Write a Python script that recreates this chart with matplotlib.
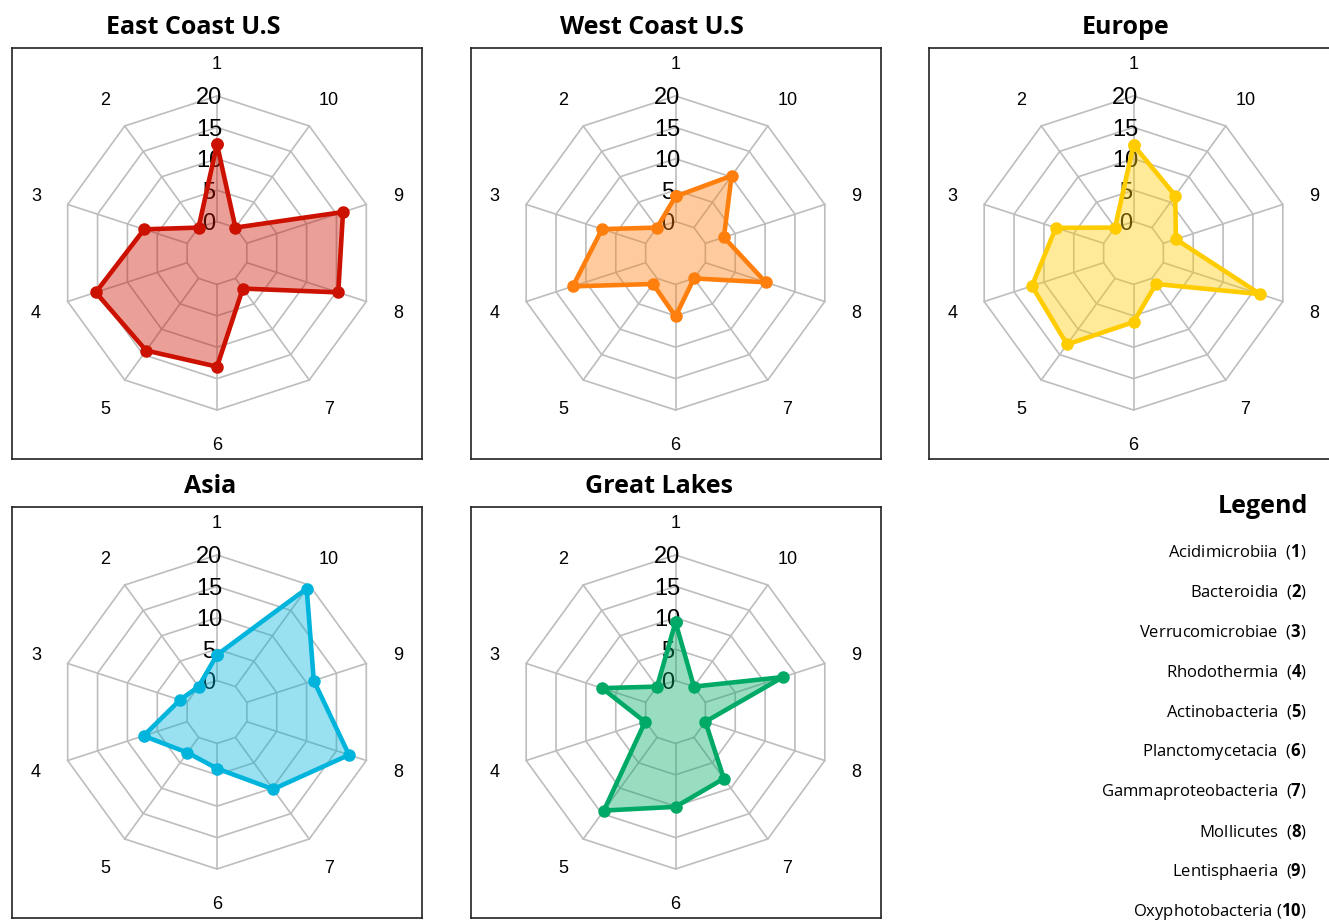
import numpy as np
import matplotlib
matplotlib.use("Agg")
import matplotlib.pyplot as plt

# ---- data -------------------------------------------------------------
axis_labels = ["1", "2", "3", "4", "5", "6", "7", "8", "9", "10"]
class_names = ["Acidimicrobiia", "Bacteroidia", "Verrucomicrobiae", "Rhodothermia",
               "Actinobacteria", "Planctomycetacia", "Gammaproteobacteria",
               "Mollicutes", "Lentisphaeria", "Oxyphotobacteria"]
ring_ticks = [0, 5, 10, 15, 20]

east_coast = [12.3, 0.0, 7.2, 15.3, 14.2, 13.1, 2.0, 15.3, 16.1, 0.0]
west_coast = [4.0, 0.0, 7.3, 12.2, 1.1, 5.1, 0.0, 10.1, 3.1, 10.2]
europe = [12.2, 0.0, 8.0, 12.0, 13.0, 6.0, 1.1, 16.2, 2.1, 6.3]
asia = [4.1, 0.0, 1.2, 7.3, 3.0, 4.0, 10.2, 17.1, 11.2, 19.3]
great_lakes = [9.3, 0.0, 7.3, 0.1, 14.4, 10.1, 8.1, 0.0, 13.0, 0.0]

region_titles = ["East Coast U.S", "West Coast U.S", "Europe", "Asia", "Great Lakes"]
region_values = [east_coast, west_coast, europe, asia, great_lakes]
region_colors = ["#cc1100", "#ff7f0e", "#ffcc00", "#00b4dc", "#00aa66"]

# ---- layout (pixels) --------------------------------------------------
W, H = 1329, 923
fig = plt.figure(figsize=(W / 100, H / 100), dpi=100)
plt.rcParams["mathtext.fontset"] = "custom"
plt.rcParams["mathtext.rm"] = "Open Sans"
plt.rcParams["mathtext.bf"] = "Open Sans:bold"

BOX_W, BOX_H = 410, 411
R = 157
boxes = [(12, 47.5), (470.5, 47.5), (928.5, 47.5), (12, 506.5), (470.5, 506.5)]
title_pos = [(193.3, 34.3), (652.4, 34.3), (1125.5, 34.3), (209.7, 492.7), (658.8, 492.7)]


def rect(left, top, w, h):
    return [left / W, 1 - (top + h) / H, w / W, h / H]


def fx(x):
    return x / W


def fy(y):
    return 1 - y / H


thetas = np.linspace(0, 2 * np.pi, len(axis_labels), endpoint=False)
closed = np.append(thetas, thetas[0])

for (left, top), title, vals, col, (tx, ty) in zip(boxes, region_titles, region_values,
                                                   region_colors, title_pos):
    # frame
    frame = fig.add_axes(rect(left, top, BOX_W, BOX_H))
    frame.set_xticks([])
    frame.set_yticks([])
    for sp in frame.spines.values():
        sp.set_linewidth(1.2)
        sp.set_color("#222222")

    cx, cy = left + BOX_W / 2, top + BOX_H / 2
    ax = fig.add_axes(rect(cx - R, cy - R, 2 * R, 2 * R), projection="polar")
    ax.set_theta_zero_location("N")
    ax.set_theta_direction(1)
    ax.set_ylim(-5, 20)
    ax.set_axis_off()

    # decagon grid
    for v in ring_ticks:
        ax.plot(closed, [v] * len(closed), color="#bdbdbd", lw=1.2, zorder=1, clip_on=False)
    for t in thetas:
        ax.plot([t, t], [0, 20], color="#bdbdbd", lw=1.2, zorder=1, clip_on=False)

    # ring value labels along the first axis
    for v in ring_ticks:
        ax.annotate(str(v), xy=(0, v), xytext=(-5.8, -6.1), textcoords="offset points",
                    ha="center", va="baseline", fontsize=17, family="Liberation Sans",
                    color="black", zorder=2, annotation_clip=False)

    # category numbers around the chart
    for t, lab in zip(thetas, axis_labels):
        ax.text(t, 25.33, lab, ha="center", va="center_baseline", fontsize=13,
                family="Liberation Sans", color="black", clip_on=False)

    v_closed = list(vals) + [vals[0]]
    ax.fill(closed, v_closed, color=col, alpha=0.4, lw=0, zorder=3, clip_on=False)
    ax.plot(closed, v_closed, color=col, lw=3.3, marker="o", markersize=8,
            zorder=4, clip_on=False)

    fig.text(fx(tx), fy(ty), title, ha="center", va="baseline", fontsize=18,
             fontweight="bold", family="Open Sans")

# ---- legend -----------------------------------------------------------
fig.text(fx(1307.7), fy(513.3), "Legend", ha="right", va="baseline", fontsize=18,
         fontweight="bold", family="Open Sans")
for i, name in enumerate(class_names):
    y = 556.5 + i * 40.0
    gap = "  " if len(axis_labels[i]) == 1 else " "
    fig.text(fx(1306.7), fy(y), name + gap + r"($\mathbf{" + axis_labels[i] + r"}$)",
             ha="right", va="baseline", fontsize=12, family="Open Sans")

fig.savefig("out.png", dpi=100)
